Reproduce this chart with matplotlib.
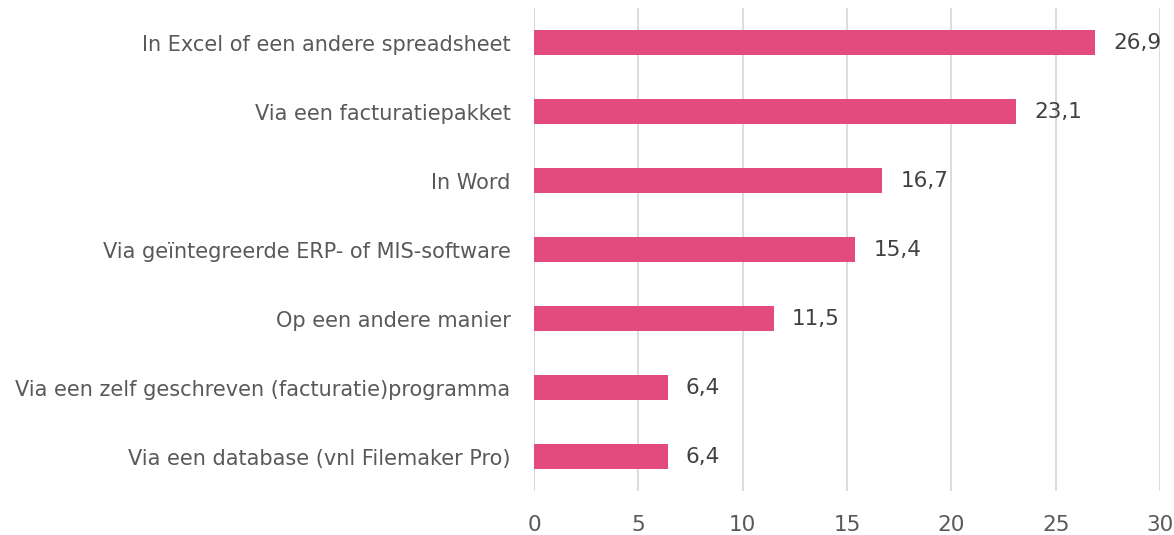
import numpy as np
import matplotlib.pyplot as plt

categories = ['In Excel of een andere spreadsheet', 'Via een facturatiepakket', 'In Word',
              'Via geïntegreerde ERP- of MIS-software', 'Op een andere manier',
              'Via een zelf geschreven (facturatie)programma', 'Via een database (vnl Filemaker Pro)']
values = [26.9, 23.1, 16.7, 15.4, 11.5, 6.4, 6.4]
xticks = [0, 5, 10, 15, 20, 25, 30]

plt.rcParams['font.family'] = ['DejaVu Sans']

fig = plt.figure(figsize=(11.74, 5.35), dpi=100)
ax = fig.add_axes([534 / 1174, 44 / 535, 626 / 1174, 483 / 535])

y = np.arange(len(categories))
ax.barh(y, values, height=0.35, color='#E34A7E', zorder=3)
for yi, v in zip(y, values):
    ax.annotate(f'{v:.1f}'.replace('.', ','), (v, yi), xytext=(13, 0), textcoords='offset points',
                va='center', ha='left', fontsize=15.5, color='#404040')

ax.set_ylim(len(categories) - 0.5, -0.5)
ax.set_xlim(0, 30)
ax.set_yticks(y)
ax.set_yticklabels(categories)
ax.set_xticks(xticks)
ax.set_xticklabels([str(t) for t in xticks])
ax.tick_params(axis='y', length=0, pad=17, labelsize=15, labelcolor='#595959')
ax.tick_params(axis='x', length=0, pad=17, labelsize=15.5, labelcolor='#595959')
ax.grid(axis='x', color='#d9d9d9', linewidth=1.3, zorder=0)
for s in ax.spines.values():
    s.set_visible(False)

fig.savefig('out.png', dpi=100)
